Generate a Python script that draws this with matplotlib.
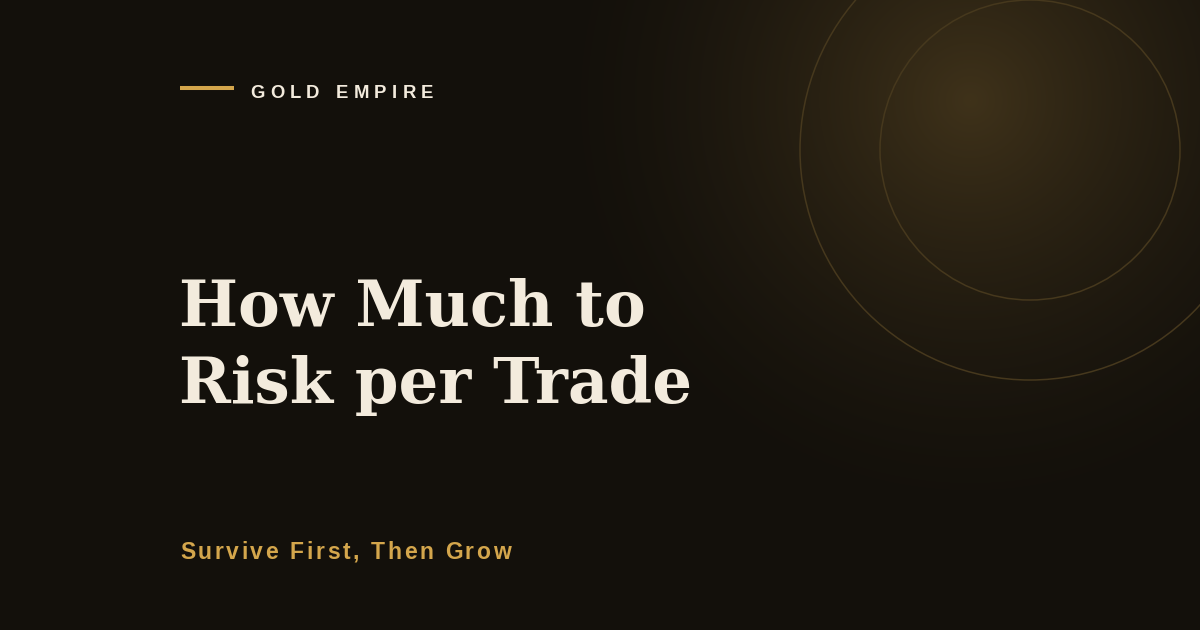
import numpy as np
import matplotlib
matplotlib.use('Agg')
import matplotlib.pyplot as plt
from matplotlib.patches import Circle

# Text content
brand = "GOLD EMPIRE"
title_lines = ["How Much to", "Risk per Trade"]
subtitle = "Survive First, Then Grow"

# Decorative rings: (center x, center y, radius) in pixels
ring_center = (1030, 150)
ring_radii = [150, 230]

BG = '#13100b'
GOLD = '#d4a64c'
CREAM = '#f3ebdd'

W, H = 1200, 630
fig = plt.figure(figsize=(12, 6.3), dpi=100)
fig.patch.set_facecolor(BG)
ax = fig.add_axes([0, 0, 1, 1])
ax.set_xlim(0, W)
ax.set_ylim(H, 0)
ax.axis('off')

# Radial glow behind the rings
yy, xx = np.mgrid[0:H, 0:W]
d = np.sqrt((xx - 970) ** 2 + (yy - 100) ** 2)
t = np.clip(1 - d / 430.0, 0, 1) ** 1.6
bg = np.array([0x13, 0x10, 0x0b]) / 255.0
glow = np.array([0x3f, 0x32, 0x1a]) / 255.0
img = bg[None, None, :] + (glow - bg)[None, None, :] * t[:, :, None]
ax.imshow(img, extent=(0, W, H, 0), zorder=0, interpolation='bilinear')
ax.set_xlim(0, W)
ax.set_ylim(H, 0)

for r in ring_radii:
    ax.add_patch(Circle(ring_center, r, fill=False, edgecolor='#46381d',
                        linewidth=1.1, zorder=1))

renderer = fig.canvas.get_renderer()


def text_width(s, **kw):
    tt = ax.text(0, 0, s, **kw)
    w = tt.get_window_extent(renderer).width
    tt.remove()
    return w


def spaced_text(x, y, s, spacing, **kw):
    # matplotlib has no letter-spacing, so lay the characters out one by one
    bar = text_width("|", **kw)
    for i, c in enumerate(s):
        if c == ' ':
            continue
        off = text_width(s[:i] + "|", **kw) - bar + i * spacing
        ax.text(x + off, y, c, **kw)


# Header rule and brand
ax.plot([180, 234], [88, 88], color=GOLD, linewidth=2.9, solid_capstyle='butt', zorder=2)
spaced_text(250, 98, brand, 5.4, fontsize=13.3, fontweight='bold',
            family='Liberation Sans', color=CREAM, va='baseline', zorder=3)

# Title
for i, line in enumerate(title_lines):
    ax.text(179, 326 + i * 77, line, fontsize=45.0, fontweight='bold',
            family='DejaVu Serif', color=CREAM, va='baseline', zorder=3)

# Subtitle
spaced_text(180, 559, subtitle, 2.6, fontsize=16.5, fontweight='bold',
            family='Liberation Sans', color=GOLD, va='baseline', zorder=3)

fig.savefig('out.png', dpi=100, facecolor=BG)
